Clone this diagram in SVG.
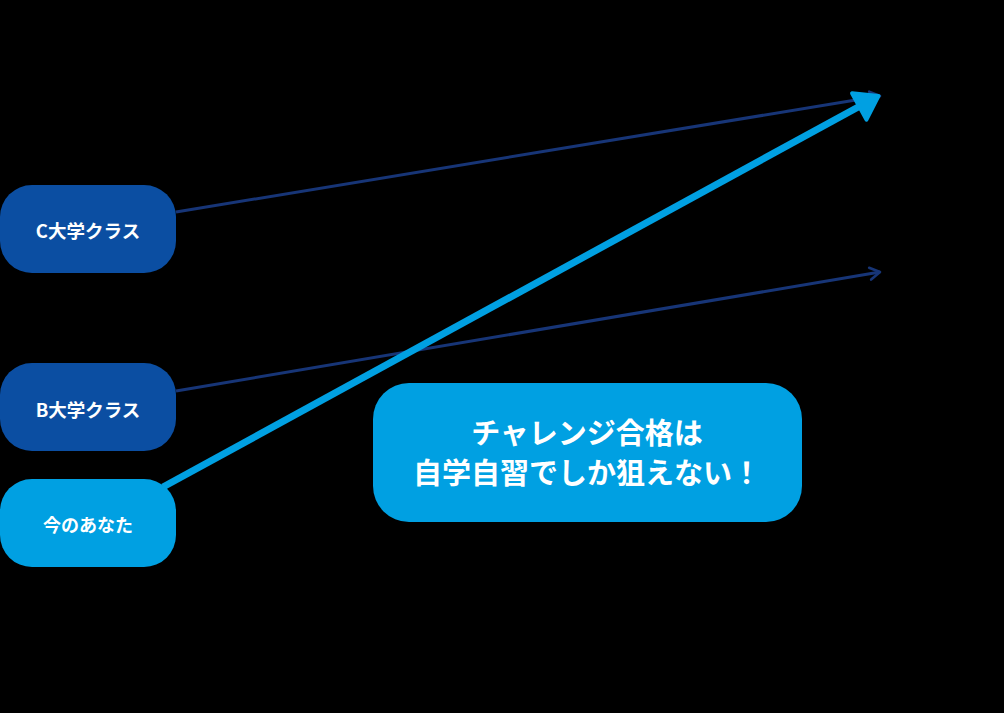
<svg xmlns="http://www.w3.org/2000/svg" width="1004" height="713" viewBox="0 0 1004 713">
<style>
.dark{fill:#0b4ea2}
.light{fill:#00a0e2}
.lbl{font-family:"Noto Sans CJK JP","Noto Sans",sans-serif;font-weight:bold;fill:#ffffff;text-anchor:middle}
.nav{stroke:#173577;stroke-width:3;fill:none}
</style>
<defs>
<marker id="open" markerUnits="userSpaceOnUse" markerWidth="20" markerHeight="20" refX="14" refY="8" orient="auto" viewBox="0 0 20 16">
<path d="M4,2 L14,8 L4,14" fill="none" stroke="#173577" stroke-width="2.6" stroke-linecap="round" stroke-linejoin="round"/>
</marker>
<marker id="tri" markerUnits="userSpaceOnUse" markerWidth="36" markerHeight="36" refX="6" refY="18" orient="auto" viewBox="0 0 36 36">
<path d="M4,3 L26,18 L4,33 Z" fill="#00a0e2" stroke="#00a0e2" stroke-width="4" stroke-linejoin="round"/>
</marker>
</defs>
<rect width="1004" height="713" fill="#000"/>
<g id="connectors">
<line class="nav" x1="176" y1="212" x2="880" y2="96" marker-end="url(#open)"/>
<line class="nav" x1="176" y1="391" x2="880" y2="272" marker-end="url(#open)"/>
<line x1="163" y1="487" x2="861" y2="105.5" stroke="#00a0e2" stroke-width="7" marker-end="url(#tri)"/>
</g>
<g id="node-c">
<rect class="dark" x="0" y="185" width="176" height="88" rx="32"/>
<text class="lbl" x="88" y="238" font-size="18.5">C大学クラス</text>
</g>
<g id="node-b">
<rect class="dark" x="0" y="363" width="176" height="88" rx="32"/>
<text class="lbl" x="88" y="417" font-size="18.5">B大学クラス</text>
</g>
<g id="node-you">
<rect class="light" x="0" y="479" width="176" height="88" rx="32"/>
<text class="lbl" x="88" y="532" font-size="18">今のあなた</text>
</g>
<g id="node-msg">
<rect class="light" x="373" y="383" width="429" height="139" rx="36"/>
<text class="lbl" x="587" y="444" font-size="29">チャレンジ合格は</text>
<text class="lbl" x="587" y="484" font-size="29">自学自習でしか狙えない！</text>
</g>
</svg>
